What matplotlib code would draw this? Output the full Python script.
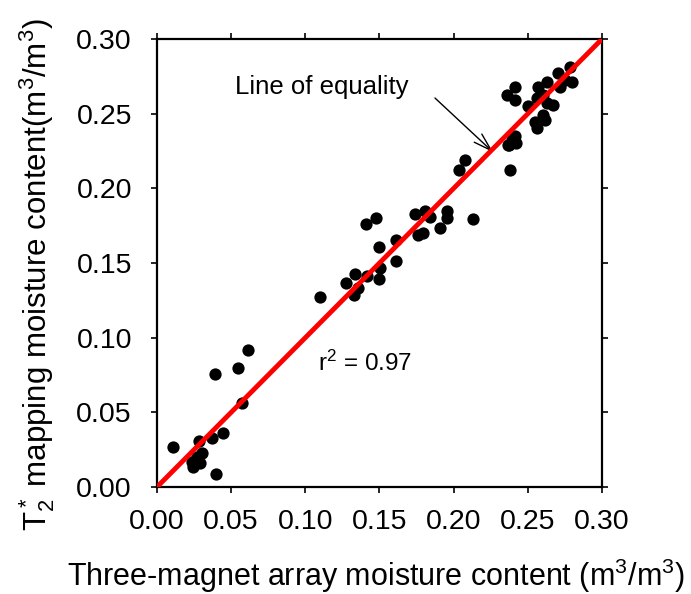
import matplotlib
matplotlib.use("Agg")
import matplotlib.pyplot as plt

plt.rcParams['font.family'] = ['Liberation Sans', 'DejaVu Sans']
plt.rcParams['mathtext.fontset'] = 'custom'
plt.rcParams['mathtext.rm'] = 'Liberation Sans'
plt.rcParams['mathtext.it'] = 'Liberation Sans'

# Three-magnet array moisture content (x) vs T2* mapping moisture content (y)
three_magnet = [
    0.0106, 0.0285, 0.0369, 0.0447, 0.0245, 0.0290, 0.0268, 0.0301, 0.0234, 0.0398,
    0.0390, 0.0548, 0.0613, 0.0570,
    0.1100, 0.1277, 0.1333, 0.1327, 0.1354, 0.1417, 0.1408, 0.1476, 0.1500, 0.1506,
    0.1500, 0.1610, 0.1613, 0.1738, 0.1760, 0.1790, 0.1810, 0.1840, 0.1905, 0.1955,
    0.1958, 0.2130, 0.2036, 0.2077,
    0.2380, 0.2375, 0.2390, 0.2414, 0.2420, 0.2368,
    0.2358, 0.2413, 0.2413, 0.2503, 0.2570, 0.2627, 0.2604, 0.2560, 0.2672, 0.2627,
    0.2604, 0.2548, 0.2560, 0.2616, 0.2705, 0.2784, 0.2796, 0.2750, 0.2717,
]
t2_mapping = [
    0.0266, 0.0310, 0.0326, 0.0364, 0.0136, 0.0159, 0.0203, 0.0226, 0.0170, 0.0090,
    0.0760, 0.0800, 0.0920, 0.0560,
    0.1270, 0.1365, 0.1429, 0.1286, 0.1330, 0.1410, 0.1760, 0.1800, 0.1610, 0.1464,
    0.1390, 0.1655, 0.1515, 0.1830, 0.1690, 0.1700, 0.1850, 0.1810, 0.1737, 0.1850,
    0.1800, 0.1795, 0.2120, 0.2190,
    0.2120, 0.2287, 0.2325, 0.2350, 0.2305, 0.2290,
    0.2625, 0.2677, 0.2590, 0.2553, 0.2680, 0.2714, 0.2625, 0.2603, 0.2558, 0.2570,
    0.2491, 0.2446, 0.2402, 0.2458, 0.2770, 0.2815, 0.2714, 0.2725, 0.2680,
]

ticks = [0.00, 0.05, 0.10, 0.15, 0.20, 0.25, 0.30]
tick_labels = ["0.00", "0.05", "0.10", "0.15", "0.20", "0.25", "0.30"]
equality = [0.0, 0.30]

fig = plt.figure(figsize=(6.91, 5.94), dpi=100)
ax = fig.add_axes([0.2272, 0.1801, 0.6440, 0.7542])

ax.scatter(three_magnet, t2_mapping, s=78, color='black', zorder=3, linewidths=0)
ax.plot(equality, equality, color='#ff0000', lw=3.5, zorder=4, solid_capstyle='butt')

ax.set_xlim(0, 0.30)
ax.set_ylim(0, 0.30)
ax.set_xticks(ticks)
ax.set_yticks(ticks)
ax.set_xticklabels(tick_labels, fontsize=20.5)
ax.set_yticklabels(tick_labels, fontsize=20.5)
ax.tick_params(direction='out', length=4, width=1.2, top=True, right=True,
               labeltop=False, labelright=False)
ax.tick_params(axis='x', pad=12)
ax.tick_params(axis='y', pad=14)
for sp in ax.spines.values():
    sp.set_linewidth(1.6)

ax.set_xlabel("Three-magnet array moisture content (m$^3$/m$^3$)", fontsize=22)
ax.set_ylabel("T$_2^*$ mapping moisture content(m$^3$/m$^3$)", fontsize=22.5)
ax.xaxis.set_label_coords(0.492, -0.155)
ax.yaxis.set_label_coords(-0.225, 0.475)

# Line of equality callout
ax.text(0.0526, 0.268, "Line of equality", fontsize=18.5, ha='left', va='center')
ax.annotate("", xy=(0.2265, 0.2243), xytext=(0.1874, 0.2605),
            arrowprops=dict(arrowstyle='->,head_length=1.3,head_width=0.4',
                            color='black', lw=1.0, shrinkA=0, shrinkB=0))
ax.text(0.1085, 0.083, "r$^2$ = 0.97", fontsize=17.5, ha='left', va='center')

fig.savefig("out.png", dpi=100)
